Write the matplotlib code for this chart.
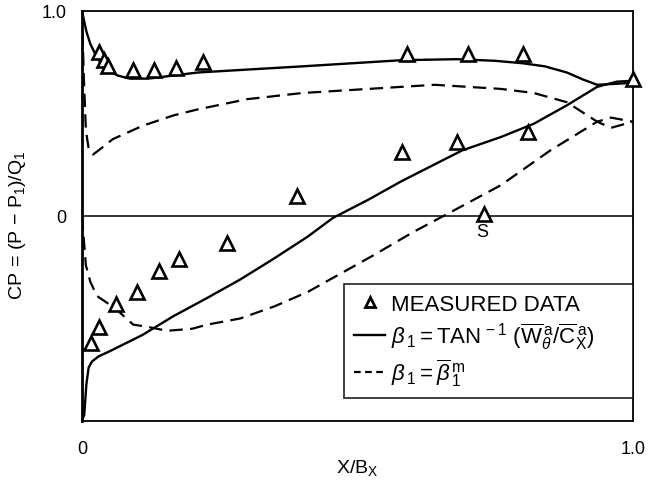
import matplotlib
matplotlib.use("Agg")
import matplotlib.pyplot as plt
from matplotlib.lines import Line2D

plt.rcParams['font.family'] = ['Liberation Sans', 'DejaVu Sans']
plt.rcParams['mathtext.fontset'] = 'custom'
plt.rcParams['mathtext.rm'] = 'Liberation Sans'
plt.rcParams['mathtext.it'] = 'Liberation Sans:italic'
plt.rcParams['mathtext.bf'] = 'Liberation Sans:bold'

# measured data
meas_x = [0.016, 0.03, 0.062, 0.10, 0.14, 0.176, 0.263, 0.39, 0.58, 0.68, 0.73, 0.81,
          0.03, 0.04, 0.047, 0.093, 0.13, 0.17, 0.22, 0.59, 0.70, 0.80, 1.0]
meas_y = [-0.62, -0.54, -0.43, -0.37, -0.27, -0.21, -0.13, 0.10, 0.31, 0.36, 0.01, 0.41,
          0.80, 0.76, 0.73, 0.71, 0.71, 0.72, 0.75, 0.79, 0.79, 0.79, 0.67]

# solid curve: upper branch
su_x = [0.0, 0.004, 0.008, 0.015, 0.024, 0.033, 0.047, 0.065, 0.087, 0.12, 0.21, 0.40,
        0.58, 0.68, 0.75, 0.80, 0.84, 0.88, 0.91, 0.935, 0.97, 1.0]
su_y = [1.0, 0.95, 0.90, 0.84, 0.79, 0.75, 0.71, 0.685, 0.67, 0.67, 0.70, 0.73,
        0.76, 0.765, 0.757, 0.745, 0.73, 0.70, 0.665, 0.64, 0.645, 0.65]

# solid curve: lower branch
sl_x = [0.0, 0.004, 0.008, 0.012, 0.018, 0.03, 0.05, 0.08, 0.11, 0.165, 0.227, 0.287,
        0.347, 0.41, 0.455, 0.52, 0.58, 0.69, 0.76, 0.82, 0.88, 0.935, 0.97, 1.0]
sl_y = [-1.0, -0.97, -0.82, -0.74, -0.71, -0.685, -0.66, -0.62, -0.58, -0.49, -0.40, -0.31,
        -0.21, -0.10, -0.01, 0.08, 0.17, 0.32, 0.385, 0.45, 0.54, 0.63, 0.655, 0.66]

# dashed curve: upper branch
du_x = [0.0, 0.003, 0.007, 0.012, 0.02, 0.03, 0.056, 0.11, 0.165, 0.21, 0.30, 0.40,
        0.52, 0.64, 0.76, 0.82, 0.88, 0.935, 0.96, 1.0]
du_y = [1.0, 0.70, 0.42, 0.33, 0.30, 0.32, 0.375, 0.44, 0.49, 0.52, 0.57, 0.60,
        0.62, 0.64, 0.62, 0.60, 0.555, 0.46, 0.48, 0.46]

# dashed curve: lower branch
dl_x = [0.0, 0.007, 0.015, 0.027, 0.06, 0.093, 0.118, 0.154, 0.20, 0.227, 0.287, 0.35,
        0.41, 0.47, 0.53, 0.60, 0.67, 0.76, 0.85, 0.935, 0.96, 1.0]
dl_y = [0.0, -0.24, -0.32, -0.39, -0.45, -0.53, -0.54, -0.56, -0.55, -0.53, -0.50, -0.44,
        -0.37, -0.28, -0.19, -0.08, 0.02, 0.15, 0.32, 0.46, 0.43, 0.46]

x_ticks = [0.0, 1.0]
x_ticklabels = ["0", "1.0"]
y_ticks = [0.0, 1.0]
y_ticklabels = ["0", "1.0"]

fig = plt.figure(figsize=(6.56, 4.81), dpi=100)
ax = fig.add_axes([82/656, 1 - 422/481, (633-82)/656, (422-12)/481])

ax.axhline(0.0, color='black', lw=1.1, zorder=1)
ax.plot(su_x, su_y, color='black', lw=1.7, solid_capstyle='round')
ax.plot(sl_x, sl_y, color='black', lw=1.7, solid_capstyle='round')
ax.plot(du_x, du_y, color='black', lw=1.6, dashes=(6, 3.3))
ax.plot(dl_x, dl_y, color='black', lw=1.6, dashes=(6, 3.3))
ax.plot(meas_x, meas_y, linestyle='none', marker='^', markersize=10,
        markerfacecolor='white', markeredgecolor='black', markeredgewidth=1.9,
        clip_on=False, zorder=5)

ax.text(0.726, -0.075, "S", fontsize=13, ha='center', va='center')

ax.set_xlim(0, 1.0)
ax.set_ylim(-1.0, 1.0)
ax.set_xticks(x_ticks)
ax.set_xticklabels(x_ticklabels)
ax.set_yticks(y_ticks)
ax.set_yticklabels(y_ticklabels)
ax.tick_params(axis='both', length=0, labelsize=13)
ax.tick_params(axis='x', pad=14)
ax.tick_params(axis='y', pad=11)
for s in ax.spines.values():
    s.set_linewidth(1.3)
ax.spines['left'].set_linewidth(2.0)

ax.set_xlabel(r"X/B$_\mathrm{X}$", fontsize=14, labelpad=0)
ax.set_ylabel(r"CP$\,=\,$(P $-$ P$_1$)/Q$_1$", fontsize=14)
ax.yaxis.set_label_coords(-0.098, 0.48)

h1 = Line2D([], [], linestyle='none', marker='^', markersize=7,
            markerfacecolor='white', markeredgecolor='black', markeredgewidth=2.0)
h2 = Line2D([], [], color='black', lw=1.7)
h3 = Line2D([], [], color='black', lw=1.6, dashes=(3, 2))
labels = ["MEASURED DATA",
          r"$\beta_{\,1} = \mathrm{TAN}^{\,-1}\ (\overline{\mathrm{W}}_{\theta}^{\,\mathrm{a}}/\overline{\mathrm{C}}_{\mathrm{X}}^{\,\mathrm{a}})$",
          r"$\beta_{\,1} = \overline{\beta}_{\,1}^{\,\mathrm{m}}$"]
leg = ax.legend([h1, h2, h3], labels, loc='lower left',
                bbox_to_anchor=(0.4755, 0.056, 0.5245, 0.285), mode='expand',
                borderaxespad=0, fancybox=False, frameon=True, fontsize=16,
                handlelength=1.4, handletextpad=0.25, labelspacing=0.25,
                borderpad=0.45)
leg.get_frame().set_edgecolor('black')
leg.get_frame().set_linewidth(1.3)

fig.savefig("out.png", dpi=100)
